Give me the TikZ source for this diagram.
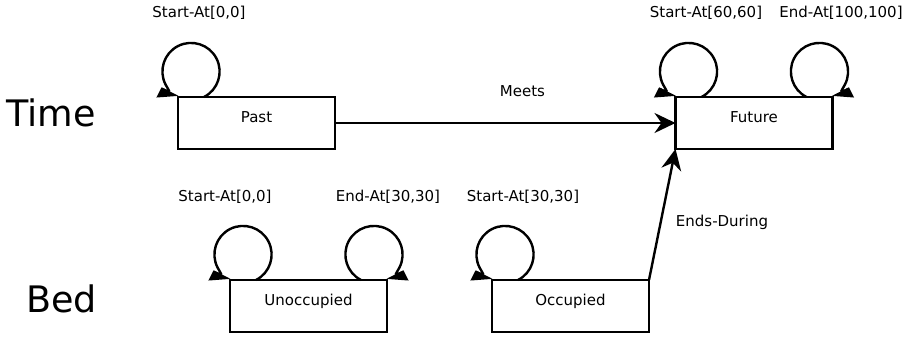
\documentclass[tikz,border=0pt]{standalone}
\usepackage{fontspec}
\setmainfont{DejaVu Sans}
\usetikzlibrary{arrows.meta}

\tikzset{
  state/.style={draw, line width=2.4pt, fill=white, minimum width=157pt,
    minimum height=52pt, inner sep=0pt, outer sep=0pt,
    text height=6pt, text depth=6pt, font={\fontsize{15}{18}\selectfont}},
  tag/.style={anchor=base, inner sep=0pt, font={\fontsize{15}{18}\selectfont}},
  big/.style={anchor=base, inner sep=0pt, font={\fontsize{36.5}{40}\selectfont}},
  link/.style={line width=2.4pt, -{Stealth[length=21pt,width=20pt,inset=7pt]}},
  % self-loop sitting on a top-left corner, running anticlockwise
  ccwloop/.style={line width=2.4pt,
    -{Stealth[length=17pt,width=20pt,inset=0pt,right]}},
  ccwarc/.style={start angle=-63, end angle=243, radius=28.6},
  % self-loop sitting on a top-right corner, running clockwise
  cwloop/.style={line width=2.4pt,
    -{Stealth[length=17pt,width=20pt,inset=0pt,left]}},
  cwarc/.style={start angle=-117, end angle=-423, radius=28.6},
}

\begin{document}
\begin{tikzpicture}[x=1pt, y=1pt]
\useasboundingbox (0,0) rectangle (908,337);

% row titles
\node[big] (time) at (51,210) {Time};
\node[big] (bed) at (61.5,24) {Bed};

% states
\node[state] (past) at (256.5,214) {Past};
\node[state] (future) at (754,214) {Future};
\node[state] (unocc) at (308.5,31) {Unoccupied};
\node[state] (occ) at (570.5,31) {Occupied};

% loop annotations
\node[tag] (pstart) at (199,319) {Start-At[0,0]};
\node[tag] (fstart) at (706,319) {Start-At[60,60]};
\node[tag] (fend) at (841,319) {End-At[100,100]};
\node[tag] (ustart) at (225,135) {Start-At[0,0]};
\node[tag] (uend) at (388,135) {End-At[30,30]};
\node[tag] (ostart) at (523,135) {Start-At[30,30]};

% relations between states
\draw[link] (past.east) -- (future.west);
\node[tag] (meets) at (522.5,240) {Meets};
\draw[link] (occ.north east) -- (future.south west);
\node[tag] (ends) at (722,110) {Ends-During};

% self-loops
\draw[ccwloop] ([xshift=26pt]past.north west) arc[ccwarc];
\draw[ccwloop] ([xshift=26pt]future.north west) arc[ccwarc];
\draw[cwloop] ([xshift=-26pt]future.north east) arc[cwarc];
\draw[ccwloop] ([xshift=26pt]unocc.north west) arc[ccwarc];
\draw[cwloop] ([xshift=-26pt]unocc.north east) arc[cwarc];
\draw[ccwloop] ([xshift=26pt]occ.north west) arc[ccwarc];
\end{tikzpicture}
\end{document}
